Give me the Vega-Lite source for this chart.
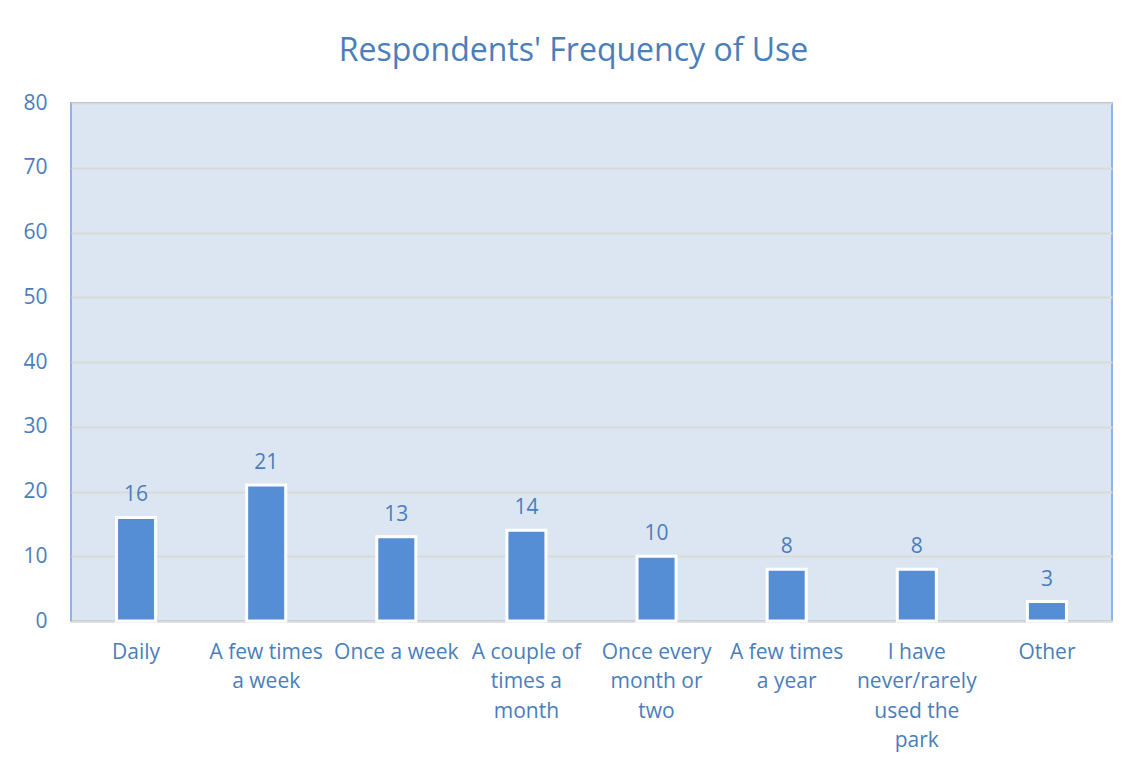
{
  "$schema": "https://vega.github.io/schema/vega-lite/v6.json",
  "autosize": {"type": "none"},
  "width": 1041,
  "height": 518,
  "padding": {"left": 71, "top": 103, "right": 21, "bottom": 146},
  "background": "white",
  "title": {
    "text": "Respondents' Frequency of Use",
    "font": "Open Sans",
    "fontSize": 32,
    "fontWeight": "normal",
    "color": "#4a7ebb",
    "anchor": "middle",
    "offset": 24,
    "dx": -18
  },
  "config": {
    "view": {"fill": "#dce6f2", "stroke": "#8eb4e3", "strokeWidth": 2},
    "axis": {"labelFont": "Open Sans", "labelColor": "#4a7ebb", "labelFontSize": 21, "ticks": false, "title": null}
  },
  "data": {
    "values": [
      {"category": "Daily", "count": 16},
      {"category": "A few times a week", "count": 21},
      {"category": "Once a week", "count": 13},
      {"category": "A couple of times a month", "count": 14},
      {"category": "Once every month or two", "count": 10},
      {"category": "A few times a year", "count": 8},
      {"category": "I have never/rarely used the park", "count": 8},
      {"category": "Other", "count": 3}
    ]
  },
  "encoding": {
    "x": {
      "field": "category",
      "type": "nominal",
      "sort": null,
      "scale": {"paddingInner": 0, "paddingOuter": 0},
      "axis": {
        "labelAngle": 0,
        "labelPadding": 20,
        "labelLineHeight": 29.5,
        "labelBaseline": "top",
        "domainColor": "#d9d9d9",
        "domainWidth": 2,
        "labelExpr": "datum.value == 'A few times a week' ? ['A few times', 'a week'] : datum.value == 'A couple of times a month' ? ['A couple of', 'times a', 'month'] : datum.value == 'Once every month or two' ? ['Once every', 'month or', 'two'] : datum.value == 'A few times a year' ? ['A few times', 'a year'] : datum.value == 'I have never/rarely used the park' ? ['I have', 'never/rarely', 'used the', 'park'] : datum.value"
      }
    },
    "y": {
      "field": "count",
      "type": "quantitative",
      "scale": {"domain": [0, 80]},
      "axis": {
        "values": [0, 10, 20, 30, 40, 50, 60, 70, 80],
        "domain": false,
        "grid": true,
        "gridColor": "#d9d9d9",
        "gridWidth": 2,
        "labelPadding": 24,
        "labelFontSize": 21
      }
    }
  },
  "layer": [
    {
      "mark": {"type": "bar", "width": {"band": 0.3}, "color": "#558ed5", "stroke": "white", "strokeWidth": 3}
    },
    {
      "mark": {"type": "text", "font": "Open Sans", "fontSize": 21, "color": "#4a7ebb", "baseline": "alphabetic", "dy": -16},
      "encoding": {"text": {"field": "count", "type": "quantitative"}}
    }
  ]
}
